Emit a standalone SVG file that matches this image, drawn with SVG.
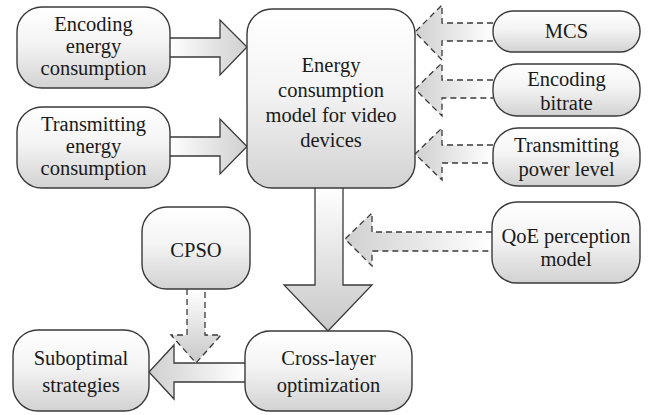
<svg xmlns="http://www.w3.org/2000/svg" width="650" height="415" viewBox="0 0 650 415">
<defs>
<linearGradient id="gBox" x1="0" y1="0" x2="0" y2="1"><stop offset="0" stop-color="#ffffff"/><stop offset="0.45" stop-color="#f4f4f4"/><stop offset="1" stop-color="#d2d2d2"/></linearGradient>
<linearGradient id="gR" x1="0" y1="0" x2="1" y2="0"><stop offset="0" stop-color="#ffffff"/><stop offset="1" stop-color="#d0d0d0"/></linearGradient>
<linearGradient id="gL" x1="1" y1="0" x2="0" y2="0"><stop offset="0" stop-color="#ffffff"/><stop offset="1" stop-color="#d0d0d0"/></linearGradient>
<linearGradient id="gD" x1="0" y1="0" x2="0" y2="1"><stop offset="0" stop-color="#ffffff"/><stop offset="1" stop-color="#c8c8c8"/></linearGradient>
</defs>
<style>
.box{fill:url(#gBox);stroke:#3a3a3a;stroke-width:1.4}
.t{font-family:'Liberation Serif','DejaVu Serif',serif;font-size:20.5px;fill:#1a1a1a;text-anchor:middle}
.sol{stroke:#3a3a3a;stroke-width:1.3;stroke-linejoin:miter}
.dash{fill:none;stroke:#3a3a3a;stroke-width:1.3;stroke-dasharray:6,4}
</style>
<g id="connectors">
<path d="M168,38 H220 V20 L247,47 L220,75 V57 H168" fill="url(#gR)" class="sol"/>
<path d="M168,137 H220 V119 L247,146.5 L220,174 V156 H168" fill="url(#gR)" class="sol"/>
<path d="M493,23 H442 V5 L415,32 L442,60 V41 H493 Z" fill="url(#gL)" stroke="none"/>
<path d="M493,23 H442 V5 L415,32 L442,60 V41 H493" class="dash"/>
<path d="M493,80 H442 V63 L415,89 L442,116 V98 H493 Z" fill="url(#gL)" stroke="none"/>
<path d="M493,80 H442 V63 L415,89 L442,116 V98 H493" class="dash"/>
<path d="M493,145 H442 V128 L415,154 L442,180 V163 H493 Z" fill="url(#gL)" stroke="none"/>
<path d="M493,145 H442 V128 L415,154 L442,180 V163 H493" class="dash"/>
<path d="M315,188 V285 H284 L328,331 L372,285 H343 V188" fill="url(#gD)" class="sol"/>
<path d="M492,232 H372 V213 L345,239 L372,266 V251 H492 Z" fill="url(#gL)" stroke="none"/>
<path d="M492,232 H372 V213 L345,239 L372,266 V251 H492" class="dash"/>
<path d="M245,363 H174 V345 L149,372 L174,399 V382 H245" fill="url(#gL)" class="sol"/>
<path d="M187,289 V335 H171 L196,363 L221,335 H205 V289 Z" fill="url(#gD)" stroke="none"/>
<path d="M187,289 V335 H171 L196,363 L221,335 H205 V289" class="dash"/>
</g>
<g id="encoding-energy">
<rect class="box" x="17" y="7" width="153" height="81" rx="25"/>
<text class="t" x="93.5" y="31">Encoding</text>
<text class="t" x="93.5" y="53">energy</text>
<text class="t" x="93.5" y="75">consumption</text>
</g>
<g id="transmitting-energy">
<rect class="box" x="17" y="107" width="153" height="81" rx="25"/>
<text class="t" x="93.5" y="131">Transmitting</text>
<text class="t" x="93.5" y="153">energy</text>
<text class="t" x="93.5" y="175">consumption</text>
</g>
<g id="energy-model">
<rect class="box" x="247" y="9" width="168" height="179" rx="25"/>
<text class="t" x="331" y="72">Energy</text>
<text class="t" x="331" y="97">consumption</text>
<text class="t" x="331" y="122">model for video</text>
<text class="t" x="331" y="147">devices</text>
</g>
<g id="mcs">
<rect class="box" x="493" y="11" width="147" height="41" rx="20"/>
<text class="t" x="566.5" y="38">MCS</text>
</g>
<g id="encoding-bitrate">
<rect class="box" x="493" y="64" width="147" height="52" rx="24"/>
<text class="t" x="566.5" y="86">Encoding</text>
<text class="t" x="566.5" y="110">bitrate</text>
</g>
<g id="transmitting-power">
<rect class="box" x="493" y="128" width="147" height="58" rx="25"/>
<text class="t" x="566.5" y="152">Transmitting</text>
<text class="t" x="566.5" y="176">power level</text>
</g>
<g id="qoe">
<rect class="box" x="492" y="202" width="148" height="81" rx="25"/>
<text class="t" x="566" y="243">QoE perception</text>
<text class="t" x="566" y="266">model</text>
</g>
<g id="cpso">
<rect class="box" x="142" y="207" width="108" height="82" rx="25"/>
<text class="t" x="196" y="257">CPSO</text>
</g>
<g id="suboptimal">
<rect class="box" x="13" y="330" width="136" height="81" rx="25"/>
<text class="t" x="81" y="365">Suboptimal</text>
<text class="t" x="81" y="392">strategies</text>
</g>
<g id="cross-layer">
<rect class="box" x="245" y="331" width="167" height="80" rx="25"/>
<text class="t" x="328.5" y="365">Cross-layer</text>
<text class="t" x="328.5" y="392">optimization</text>
</g>
</svg>
